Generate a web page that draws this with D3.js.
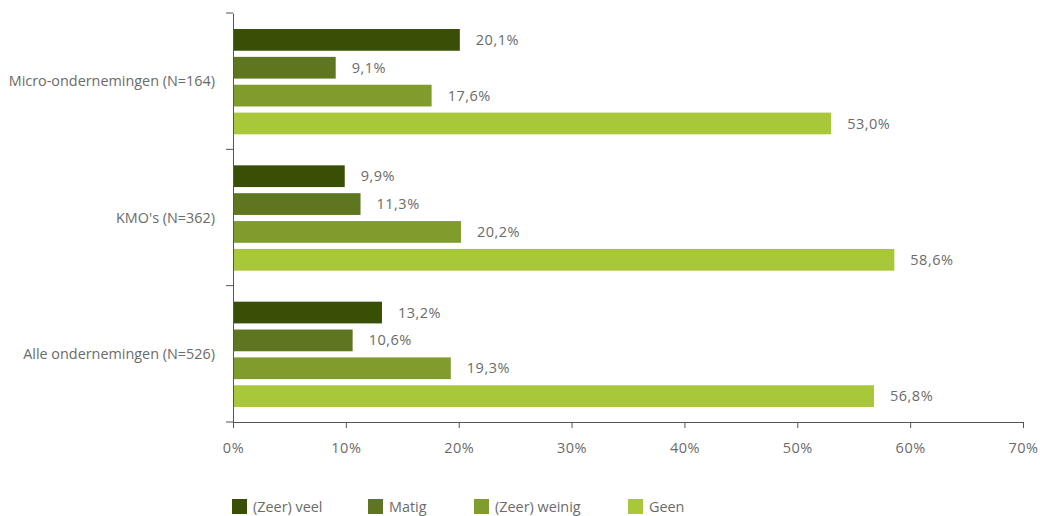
<!DOCTYPE html>
<html><head><meta charset="utf-8">
<script src="https://cdn.jsdelivr.net/npm/d3@7"></script>
<style>
body{margin:0;background:#fff;}
text{font-family:"Open Sans",sans-serif;fill:#6b6b6b;}
</style></head>
<body><svg id="c" width="1040" height="516"></svg>
<script>
const categories = ["Micro-ondernemingen (N=164)", "KMO's (N=362)", "Alle ondernemingen (N=526)"];
const seriesNames = ["(Zeer) veel", "Matig", "(Zeer) weinig", "Geen"];
const zeerVeel = [20.1, 9.9, 13.2];
const matig = [9.1, 11.3, 10.6];
const zeerWeinig = [17.6, 20.2, 19.3];
const geen = [53.0, 58.6, 56.8];
const colors = ["#394f05", "#5e7620", "#809c2d", "#a8c739"];
const xTicks = [0, 10, 20, 30, 40, 50, 60, 70];

(function () {
const seriesValues = [zeerVeel, matig, zeerWeinig, geen];
const svg = d3.select("#c");
const mLeft = 233, mRight = 1023, mTop = 13, mBottom = 422;

const x = d3.scaleLinear().domain([0, 70]).range([mLeft, mRight]);
const y = d3.scaleBand().domain(categories).range([mTop, mBottom]);
const ys = d3.scaleBand().domain(seriesNames).range([16, y.bandwidth() - 15]).paddingInner(0.22);

const fmt = v => d3.format(".1f")(v).replace(".", ",") + "%";

categories.forEach((cat, ci) => {
  const g = svg.append("g").attr("transform", `translate(0,${y(cat)})`);
  seriesNames.forEach((s, si) => {
    const v = seriesValues[si][ci];
    g.append("rect")
      .attr("x", x(0)).attr("y", ys(s))
      .attr("width", x(v) - x(0)).attr("height", ys.bandwidth())
      .attr("fill", colors[si]);
    g.append("text")
      .attr("x", x(v) + 16).attr("y", ys(s) + ys.bandwidth() / 2)
      .attr("dy", "0.35em").attr("font-size", 14.5).attr("letter-spacing", 0.5)
      .text(fmt(v));
  });
  g.append("text")
    .attr("x", 215).attr("y", y.bandwidth() / 2)
    .attr("dy", "0.35em").attr("text-anchor", "end").attr("font-size", 14.4)
    .text(cat);
});

const xa = svg.append("g").attr("transform", `translate(0,${mBottom})`)
  .call(d3.axisBottom(x).tickValues(xTicks).tickSize(6).tickSizeOuter(0).tickFormat(d => d + "%"));
xa.select(".domain").attr("stroke", "#555");
xa.selectAll(".tick line").attr("stroke", "#555");
xa.selectAll(".tick text").attr("font-size", 14.5).attr("letter-spacing", 0.5).attr("dy", "1.55em").attr("font-family", "Open Sans").attr("fill", "#6b6b6b");

const ya = svg.append("g").attr("transform", `translate(${mLeft},0)`)
  .call(d3.axisLeft(y).tickValues([]).tickSizeOuter(0));
ya.select(".domain").attr("stroke", "#555");
[mTop, ...categories.map(c => y(c) + y.bandwidth())].forEach(v => {
  ya.append("line").attr("x1", -7).attr("x2", 0).attr("y1", v).attr("y2", v).attr("stroke", "#555");
});

const legX = [232, 368, 474, 628];
seriesNames.forEach((s, i) => {
  svg.append("rect").attr("x", legX[i]).attr("y", 499).attr("width", 15).attr("height", 15).attr("fill", colors[i]);
  svg.append("text").attr("x", legX[i] + 21).attr("y", 507).attr("dy", "0.35em").attr("font-size", 14.4).text(s);
});
})();
</script></body></html>
